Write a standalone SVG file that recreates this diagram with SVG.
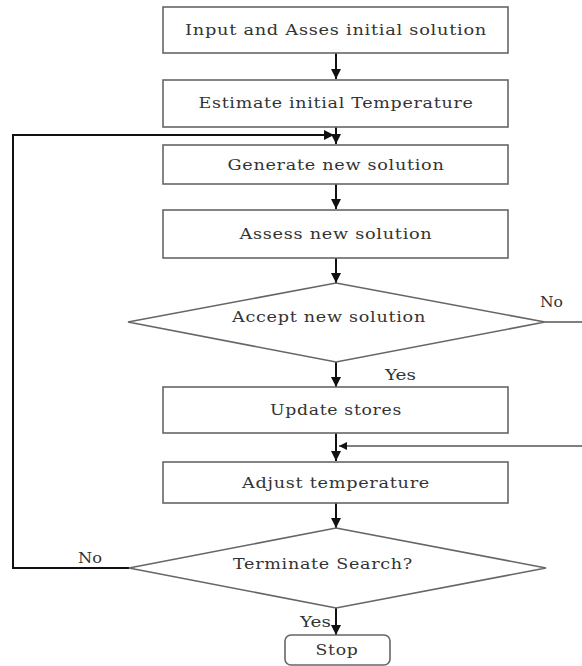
<svg xmlns="http://www.w3.org/2000/svg" width="582" height="666" viewBox="0 0 582 666">
<defs>
<style>
.box{fill:#fff;stroke:#666;stroke-width:1.6}
.t{font-family:"DejaVu Serif","Liberation Serif",serif;font-size:15px;fill:#333;text-anchor:middle;dominant-baseline:central;letter-spacing:0.6px}
.lbl{font-family:"DejaVu Serif","Liberation Serif",serif;font-size:15px;fill:#333}
.ln{fill:none;stroke:#111;stroke-width:2}
.lg{fill:none;stroke:#555;stroke-width:1.6}
</style>
<marker id="ah" viewBox="0 0 10 10" refX="10" refY="5" markerWidth="5" markerHeight="5" orient="auto" markerUnits="strokeWidth">
<path d="M0,0 L10,5 L0,10 Z" fill="#111"/>
</marker>
</defs>
<rect width="582" height="666" fill="#fff"/>
<g id="connectors">
<line class="ln" x1="336" y1="53" x2="336" y2="79" marker-end="url(#ah)"/>
<line class="ln" x1="336" y1="127" x2="336" y2="144" marker-end="url(#ah)"/>
<polyline class="ln" points="129,568 13,568 13,135 334,135" marker-end="url(#ah)"/>
<line class="ln" x1="336" y1="184" x2="336" y2="209" marker-end="url(#ah)"/>
<line class="ln" x1="336" y1="258" x2="336" y2="283" marker-end="url(#ah)"/>
<line class="ln" x1="336" y1="362" x2="336" y2="387" marker-end="url(#ah)"/>
<line class="lg" x1="545" y1="322" x2="582" y2="322"/>
<line class="ln" x1="336" y1="433" x2="336" y2="461" marker-end="url(#ah)"/>
<line class="lg" x1="582" y1="446" x2="339" y2="446" marker-end="url(#ah)"/>
<line class="ln" x1="336" y1="503" x2="336" y2="528" marker-end="url(#ah)"/>
<line class="ln" x1="336" y1="608" x2="336" y2="635" marker-end="url(#ah)"/>
<text class="lbl" x="540" y="307" textLength="23" lengthAdjust="spacingAndGlyphs">No</text>
<text class="lbl" x="385" y="380" textLength="31" lengthAdjust="spacingAndGlyphs">Yes</text>
<text class="lbl" x="78" y="563" textLength="24" lengthAdjust="spacingAndGlyphs">No</text>
<text class="lbl" x="300" y="627" textLength="31" lengthAdjust="spacingAndGlyphs">Yes</text>
</g>
<g id="n1"><rect class="box" x="163" y="7" width="345" height="46"/><text class="t" x="336" y="30" textLength="302" lengthAdjust="spacingAndGlyphs">Input and Asses initial solution</text></g>
<g id="n2"><rect class="box" x="163" y="80" width="345" height="47"/><text class="t" x="336" y="103" textLength="275" lengthAdjust="spacingAndGlyphs">Estimate initial Temperature</text></g>
<g id="n3"><rect class="box" x="163" y="145" width="345" height="39"/><text class="t" x="336" y="165" textLength="217" lengthAdjust="spacingAndGlyphs">Generate new solution</text></g>
<g id="n4"><rect class="box" x="163" y="210" width="345" height="48"/><text class="t" x="336" y="234" textLength="193" lengthAdjust="spacingAndGlyphs">Assess new solution</text></g>
<g id="d1"><polygon class="box" points="336,283 545,322 336,362 128,322"/><text class="t" x="329" y="317" textLength="194" lengthAdjust="spacingAndGlyphs">Accept new solution</text></g>
<g id="n5"><rect class="box" x="163" y="387" width="345" height="46"/><text class="t" x="336" y="410" textLength="132" lengthAdjust="spacingAndGlyphs">Update stores</text></g>
<g id="n6"><rect class="box" x="163" y="462" width="345" height="41"/><text class="t" x="336" y="483" textLength="188" lengthAdjust="spacingAndGlyphs">Adjust temperature</text></g>
<g id="d2"><polygon class="box" points="336,528 546,568 336,608 129,568"/><text class="t" x="323" y="564" textLength="180" lengthAdjust="spacingAndGlyphs">Terminate Search?</text></g>
<g id="stop"><rect class="box" x="285" y="635" width="105" height="30" rx="6"/><text class="t" x="337" y="650" textLength="43" lengthAdjust="spacingAndGlyphs">Stop</text></g>
</svg>
